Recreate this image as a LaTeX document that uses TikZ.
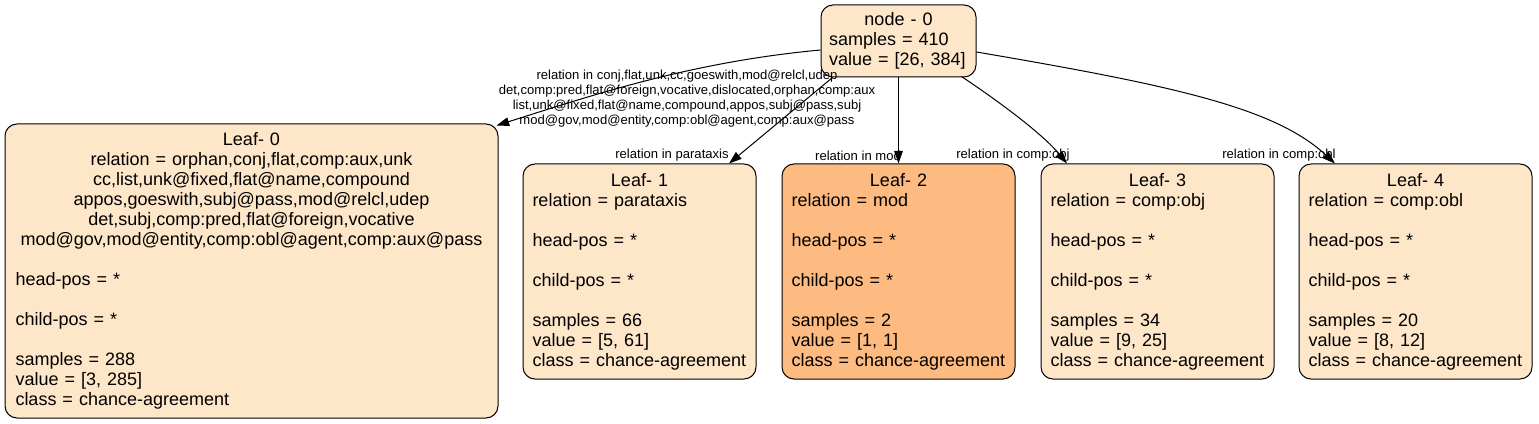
\documentclass[tikz,border=0pt]{standalone}
\usepackage{fontspec}
\setmainfont{Liberation Sans}
\usetikzlibrary{arrows.meta}
\usetikzlibrary{positioning}
\exhyphenpenalty=10000
\hyphenpenalty=10000
\definecolor{leaffill}{HTML}{FEE7C9}
\definecolor{leafdark}{HTML}{FDBB82}
\tikzset{block/.style={draw, rounded corners=9pt, line width=0.75pt, fill=leaffill, align=left, inner xsep=7pt, font=\fontsize{13.5}{15}\selectfont}}
\tikzset{leaf/.style={block, minimum height=161.25pt, minimum width=174.75pt, text width=160.5pt}}
\tikzset{connect/.style={draw, line width=0.75pt, -{Triangle[length=9.5pt,width=6.5pt]}}}
\tikzset{rel/.style={font=\fontsize{9.8}{11.25}\selectfont, inner sep=0pt, align=center}}
\begin{document}
\begin{tikzpicture}[x=0.75pt,y=-0.75pt]
\useasboundingbox (0,0) rectangle (1539,424);

%root
\node[block, minimum width=116.25pt, minimum height=54pt, text width=104pt, inner xsep=6pt] (node0) at (898.5,41) {{\centering node - 0\par}samples = 410\\value = [26, 384]};

%leaf 0
\node[leaf, text width=354pt, minimum width=369.75pt, minimum height=220.5pt] (leaf0) at (251.5,271) {{\centering Leaf- 0\\relation = orphan,conj,flat,comp:aux,unk\\cc,list,unk@fixed,flat@name,compound\\appos,goeswith,subj@pass,mod@relcl,udep\\det,subj,comp:pred,flat@foreign,vocative\\mod@gov,mod@entity,comp:obl@agent,comp:aux@pass\par}\vspace{15pt}head-pos = *\\[15pt]child-pos = *\\[15pt]samples = 288\\value = [3, 285]\\class = chance-agreement};
%leaf 1
\node[leaf] (leaf1) at (639.5,271.5) {{\centering Leaf- 1\par}relation = parataxis\\[15pt]head-pos = *\\[15pt]child-pos = *\\[15pt]samples = 66\\value = [5, 61]\\\mbox{class = chance-agreement}};
%leaf 2
\node[leaf, fill=leafdark] (leaf2) at (898.5,271.5) {{\centering Leaf- 2\par}relation = mod\\[15pt]head-pos = *\\[15pt]child-pos = *\\[15pt]samples = 2\\value = [1, 1]\\\mbox{class = chance-agreement}};
%leaf 3
\node[leaf] (leaf3) at (1157.5,271.5) {{\centering Leaf- 3\par}relation = comp:obj\\[15pt]head-pos = *\\[15pt]child-pos = *\\[15pt]samples = 34\\value = [9, 25]\\\mbox{class = chance-agreement}};
%leaf 4
\node[leaf] (leaf4) at (1415.5,271.5) {{\centering Leaf- 4\par}relation = comp:obl\\[15pt]head-pos = *\\[15pt]child-pos = *\\[15pt]samples = 20\\value = [8, 12]\\\mbox{class = chance-agreement}};

%edge labels
\node[rel] (rel0) at (687,98.5) {relation in conj,flat,unk,cc,goeswith,mod@relcl,udep\\det,comp:pred,flat@foreign,vocative,dislocated,orphan,comp:aux\\list,unk@fixed,flat@name,compound,appos,subj@pass,subj\\mod@gov,mod@entity,comp:obl@agent,comp:aux@pass};
\node[rel] (rel1) at (672,155.5) {relation in parataxis};
\node[rel] (rel2) at (858,155.5) {relation in mod};
\node[rel] (rel3) at (1013,155.5) {relation in comp:obj};
\node[rel] (rel4) at (1279,155.5) {relation in comp:obl};

%edges
\path[connect] ([shift={(0,9)}]node0.west) .. controls (690,62) and (590,96) .. ([shift={(-2,2)}]leaf0.north east);
\path[connect] ([shift={(12,0)}]node0.south west) -- ([shift={(89.5,0)}]leaf1.north);
\path[connect] (node0) -- (leaf2);
\path[connect] ([shift={(63,-1)}]node0.south) .. controls (1010,109) and (1045,137) .. ([shift={(-90.5,0)}]leaf3.north);
\path[connect] ([shift={(0,11)}]node0.east) .. controls (1176,86) and (1275,108) .. ([shift={(-80.5,0)}]leaf4.north);

\end{tikzpicture}
\end{document}
